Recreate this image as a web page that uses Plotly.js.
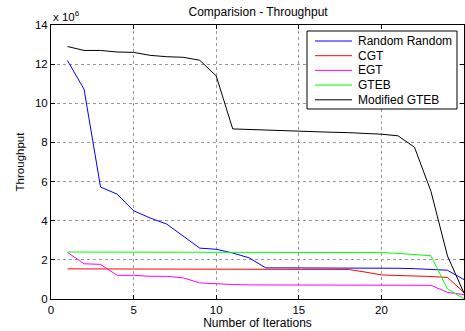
<!DOCTYPE html>
<html>
<head>
<meta charset="utf-8">
<script src="https://cdn.plot.ly/plotly-3.0.1.min.js"></script>
<style>html,body{margin:0;padding:0;background:#fff;}#chart{width:465px;height:331px;}</style>
</head>
<body>
<div id="chart"></div>
<script>
const iterations = [1,2,3,4,5,6,7,8,9,10,11,12,13,14,15,16,17,18,19,20,21,22,23,24,25];
const randomRandom = [12.18,10.72,5.72,5.36,4.51,4.14,3.83,3.2,2.6,2.54,2.35,2.1,1.59,1.59,1.59,1.59,1.59,1.59,1.59,1.59,1.57,1.55,1.52,1.47,0.99];
const cgt = [1.54,1.54,1.54,1.54,1.54,1.54,1.54,1.54,1.54,1.54,1.54,1.53,1.52,1.52,1.52,1.52,1.52,1.51,1.38,1.23,1.2,1.18,1.15,1.1,0.34];
const egt = [2.38,1.8,1.77,1.21,1.21,1.16,1.16,1.08,0.82,0.77,0.74,0.72,0.72,0.71,0.7,0.7,0.7,0.7,0.7,0.7,0.7,0.7,0.7,0.34,0.22];
const gteb = [2.4,2.4,2.4,2.4,2.4,2.4,2.4,2.4,2.4,2.4,2.39,2.39,2.38,2.38,2.37,2.37,2.37,2.37,2.37,2.37,2.33,2.28,2.21,0.51,0.02];
const modifiedGteb = [12.9,12.7,12.7,12.62,12.6,12.45,12.38,12.35,12.2,11.4,8.69,8.66,8.63,8.6,8.55,8.54,8.52,8.5,8.46,8.42,8.34,7.76,5.5,2.2,0.3];
const seriesNames = ["Random Random","CGT","EGT","GTEB","Modified GTEB"];
const seriesColors = ["#0000ff","#ff0000","#ff00ff","#00ff00","#000000"];
const seriesData = [randomRandom, cgt, egt, gteb, modifiedGteb];
const scale = 1e6;

const traces = seriesData.map((vals, i) => ({
  x: iterations,
  y: vals.map(v => v * scale),
  type: 'scatter',
  mode: 'lines',
  name: seriesNames[i],
  line: {color: seriesColors[i], width: 1},
  showlegend: false
}));

const fam = 'Liberation Sans, Arial, sans-serif';
const W = 465, H = 331, M = {l: 51, r: 1, t: 25, b: 32};
const pw = W - M.l - M.r, ph = H - M.t - M.b;
const px = x => (x - M.l) / pw;
const py = y => (H - M.b - y) / ph;

// compact legend box (MATLAB-style)
const shapes = [{
  type: 'rect', xref: 'paper', yref: 'paper',
  x0: px(307), x1: px(457), y0: py(109), y1: py(31),
  line: {color: '#000', width: 1}, fillcolor: '#fff', layer: 'above'
}];
const annotations = [{
  xref: 'paper', yref: 'paper', x: 0, y: 1, xanchor: 'left', yanchor: 'bottom',
  text: 'x 10<sup>6</sup>', showarrow: false, font: {family: fam, size: 11.5, color: '#000'}
}];
seriesNames.forEach((name, i) => {
  const yc = 41 + i * 14.7;
  shapes.push({
    type: 'line', xref: 'paper', yref: 'paper',
    x0: px(315), x1: px(352), y0: py(yc), y1: py(yc),
    line: {color: seriesColors[i], width: 1}, layer: 'above'
  });
  annotations.push({
    xref: 'paper', yref: 'paper', x: px(356), y: py(yc), xanchor: 'left', yanchor: 'middle',
    text: name, showarrow: false, font: {family: fam, size: 12, color: '#000'}
  });
});

const layout = {
  width: W, height: H,
  margin: M,
  paper_bgcolor: '#fff', plot_bgcolor: '#fff',
  font: {family: fam, size: 11, color: '#000'},
  showlegend: false,
  title: {text: 'Comparision - Throughput', font: {family: fam, size: 12, color: '#000'}, x: 0.555, xanchor: 'center', y: 0.965, yanchor: 'middle'},
  xaxis: {
    range: [0, 25], tickvals: [0,5,10,15,20,25], ticks: 'inside', ticklen: 4, tickcolor: '#000',
    showline: true, linecolor: '#000', linewidth: 1, mirror: 'ticks',
    showgrid: true, gridcolor: '#999', griddash: 'dot', gridwidth: 1, zeroline: false,
    tickfont: {family: fam, size: 11.5, color: '#000'},
    title: {text: 'Number of Iterations', font: {family: fam, size: 12, color: '#000'}, standoff: 1}
  },
  yaxis: {
    range: [0, 14e6], tickvals: [0,2e6,4e6,6e6,8e6,10e6,12e6,14e6], ticktext: ['0','2','4','6','8','10','12','14'],
    ticks: 'inside', ticklen: 4, tickcolor: '#000',
    showline: true, linecolor: '#000', linewidth: 1, mirror: 'ticks',
    showgrid: true, gridcolor: '#999', griddash: 'dot', gridwidth: 1, zeroline: false,
    tickfont: {family: fam, size: 11.5, color: '#000'},
    title: {text: 'Throughput', font: {family: fam, size: 11.5, color: '#000'}, standoff: 7}
  },
  shapes: shapes,
  annotations: annotations
};
Plotly.newPlot('chart', traces, layout, {displayModeBar: false, staticPlot: true});
</script>
</body>
</html>
